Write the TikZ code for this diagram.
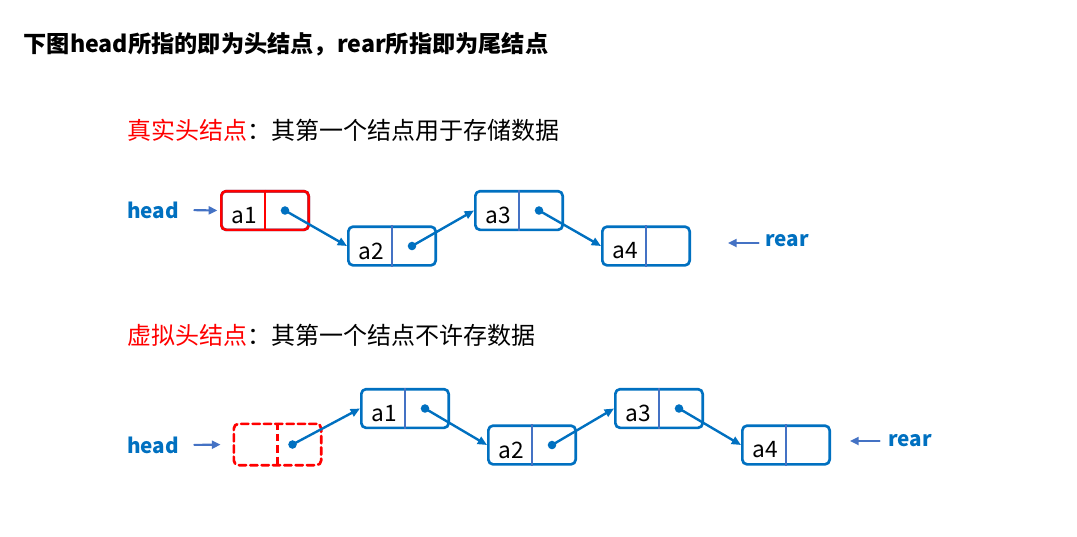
\documentclass[tikz,border=0pt]{standalone}
\usepackage{fontspec}
\setmainfont{Noto Sans CJK SC}
\usetikzlibrary{arrows.meta,calc}
\definecolor{nodeblue}{RGB}{0,112,192}
\definecolor{splitblue}{RGB}{68,114,196}
\definecolor{headred}{RGB}{255,0,0}
\begin{document}
\begin{tikzpicture}[x=.75pt,y=-.75pt,line cap=round,line join=round,
    cell/.style={draw=nodeblue,line width=2pt,rounded corners=3.5pt,
      minimum width=65.5pt,minimum height=29pt,inner sep=0pt},
    split/.style={draw=splitblue,line width=1.6pt,line cap=butt},
    link/.style={draw=nodeblue,line width=1.8pt,-{Triangle[length=7pt,width=6pt]}},
    ptr/.style={draw=splitblue,line width=1.6pt,-{Triangle[length=6.5pt,width=6pt]}},
    tag/.style={text=nodeblue,font=\bfseries\fontsize{15.5}{18}\selectfont},
    val/.style={font=\fontsize{17}{20}\selectfont,inner sep=0pt}]
  \useasboundingbox (0,0) rectangle (1077,536);

  % titles
  \node[anchor=west,font=\bfseries\fontsize{17.4}{21}\selectfont] (title) at (19,44)
    {下图head所指的即为头结点，rear所指即为尾结点};
  \node[anchor=west,font=\fontsize{18}{22}\selectfont] (real) at (123,130)
    {\textcolor{headred}{真实头结点}：其第一个结点用于存储数据};
  \node[anchor=west,font=\fontsize{18}{22}\selectfont] (dummy) at (123,335)
    {\textcolor{headred}{虚拟头结点}：其第一个结点不许存数据};

  % list cells: name/x/y/text
  \foreach \name/\x/\y/\txt in {t1/265/210.5/a1,t2/392/246/a2,t3/519/210.5/a3,
      t4/646/246/a4,v1/405/408.5/a1,v2/532/445/a2,v3/659/408.5/a3,v4/786/445/a4}{
    \node[cell] (\name) at (\x,\y) {};
    \draw[split] (\name.north) -- (\name.south);
    \node[val] (\name-txt) at ($(\name.center)+(-21,5)$) {\txt};
    \coordinate (\name-p) at ($(\name.center)+(20,0)$);
  }
  % the real head cell is red
  \node[cell,draw=headred] (t1) at (265,210.5) {};
  \draw[split,draw=headred] (t1.north) -- (t1.south);

  % the dummy head cell
  \node[cell,draw=headred,dashed,dash pattern=on 5.5pt off 3pt,
    minimum height=31pt] (v0) at (277.5,444.5) {};
  \draw[split,draw=headred,dash pattern=on 5.5pt off 3pt] (v0.north) -- (v0.south);
  \coordinate (v0-p) at ($(v0.center)+(15,0)$);

  % next pointers
  \foreach \a/\b in {t1/t2,t2/t3,t3/t4,v0/v1,v1/v2,v2/v3,v3/v4}{
    \fill[nodeblue] (\a-p) circle (3.2pt);
    \draw[link] (\a-p) -- (\b.west);
  }

  % head and rear
  \node[tag] (head1) at (153,210) {head};
  \node[tag] (head2) at (153,445) {head};
  \draw[ptr,shorten <=8pt,shorten >=2pt] (head1.east) -- (t1.west);
  \draw[ptr,shorten <=8pt,shorten >=9pt] (head2.east) -- (v0.west);
  \node[tag] (rear1) at (787,241) {rear};
  \node[tag] (rear2) at (910,441) {rear};
  \coordinate (rear1-end) at (728,243);
  \coordinate (rear2-end) at (850,441);
  \draw[ptr] ($(rear1.west)+(-2,2)$) -- (rear1-end);
  \draw[ptr] ($(rear2.west)+(-4,0)$) -- (rear2-end);
\end{tikzpicture}
\end{document}
